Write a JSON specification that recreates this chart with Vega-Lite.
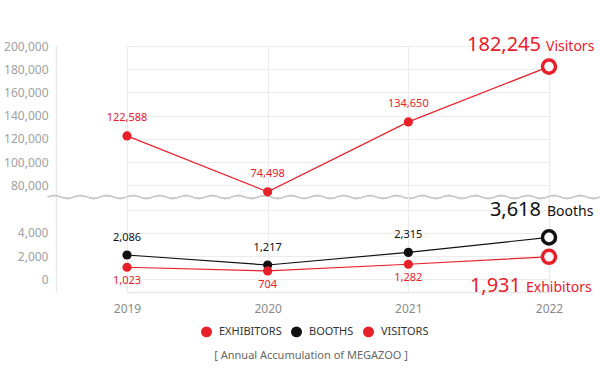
{
  "$schema": "https://vega.github.io/schema/vega-lite/v6.json",
  "padding": {"left": 3, "top": 34, "right": 0, "bottom": 5},
  "background": "white",
  "spacing": 0,
  "bounds": "flush",
  "config": {
    "view": {"stroke": null},
    "font": "Noto Sans",
    "axis": {"gridColor": "#ececec", "gridWidth": 1.2, "domainColor": "#e8e8e8", "domainWidth": 1.5, "ticks": false, "labelColor": "#a0a0a0", "labelFontSize": 12, "title": null},
    "title": {"fontSize": 11, "fontWeight": "normal", "color": "#666666", "offset": 10}
  },
  "title": {"text": "[ Annual Accumulation of MEGAZOO ]", "orient": "bottom", "anchor": "middle", "dx": 8},
  "data": {"values": [
    {"year": "2019", "series": "VISITORS", "value": 122588},
    {"year": "2020", "series": "VISITORS", "value": 74498},
    {"year": "2021", "series": "VISITORS", "value": 134650},
    {"year": "2022", "series": "VISITORS", "value": 182245},
    {"year": "2019", "series": "BOOTHS", "value": 2086},
    {"year": "2020", "series": "BOOTHS", "value": 1217},
    {"year": "2021", "series": "BOOTHS", "value": 2315},
    {"year": "2022", "series": "BOOTHS", "value": 3618},
    {"year": "2019", "series": "EXHIBITORS", "value": 1023},
    {"year": "2020", "series": "EXHIBITORS", "value": 704},
    {"year": "2021", "series": "EXHIBITORS", "value": 1282},
    {"year": "2022", "series": "EXHIBITORS", "value": 1931}
  ]},
  "resolve": {"scale": {"y": "independent", "x": "shared", "color": "shared"}},
  "vconcat": [
    {
      "width": 545,
      "height": 151,
      "transform": [{"filter": "datum.series === 'VISITORS'"}],
      "encoding": {
        "x": {"field": "year", "type": "ordinal", "scale": {"type": "point", "range": [71, 493], "padding": 0}, "axis": {"labels": false, "domain": false, "grid": true, "labelPadding": 0}},
        "y": {"field": "value", "type": "quantitative", "scale": {"domain": [70000, 200000], "nice": false, "zero": false}, "axis": {"values": [80000, 100000, 120000, 140000, 160000, 180000, 200000], "format": ",d", "labelPadding": 8, "minExtent": 52, "maxExtent": 52, "domain": true}}
      },
      "layer": [
        {"mark": {"type": "point", "shape": "M-220,0 q6.575,-3 13.15,0 t13.15,0 t13.15,0 t13.15,0 t13.15,0 t13.15,0 t13.15,0 t13.15,0 t13.15,0 t13.15,0 t13.15,0 t13.15,0 t13.15,0 t13.15,0 t13.15,0 t13.15,0 t13.15,0 t13.15,0 t13.15,0 t13.15,0 t13.15,0 t13.15,0 t13.15,0 t13.15,0 t13.15,0 t13.15,0 t13.15,0 t13.15,0 t13.15,0 t13.15,0 t13.15,0 t13.15,0 t13.15,0 t13.15,0 t13.15,0 t13.15,0 t13.15,0 t13.15,0 t13.15,0 t13.15,0 t13.15,0 t13.15,0", "size": 4, "filled": false, "fill": null, "stroke": "#cccccc", "strokeWidth": 1.3, "opacity": 1},
         "encoding": {"x": {"datum": "2020"}, "y": {"datum": 70000}}},
        {"transform": [{"filter": "datum.year !== '2022'"}],
         "mark": {"type": "point", "filled": true, "size": 85, "opacity": 1},
         "encoding": {"color": {"field": "series", "type": "nominal", "scale": {"domain": ["EXHIBITORS", "BOOTHS", "VISITORS"], "range": ["#e8202a", "#111111", "#e8202a"]}, "legend": {"title": null, "orient": "none", "legendX": 145, "legendY": 280, "direction": "horizontal", "symbolType": "circle", "symbolSize": 90, "labelFontSize": 11, "labelColor": "#333333", "columnPadding": 6, "labelOffset": 7}}}},
        {"mark": {"type": "line", "strokeWidth": 1.2},
         "encoding": {"color": {"field": "series", "type": "nominal", "legend": null}}},
        {"transform": [{"filter": "datum.year === '2022'"}],
         "mark": {"type": "point", "filled": false, "fill": "white", "size": 170, "strokeWidth": 3.5, "opacity": 1},
         "encoding": {"color": {"field": "series", "type": "nominal", "legend": null}}},
        {"transform": [{"filter": "datum.year !== '2022'"}],
         "mark": {"type": "text", "dy": -15, "fontSize": 11, "color": "#e8202a", "baseline": "alphabetic"},
         "encoding": {"text": {"field": "value", "type": "quantitative", "format": ","}}},
        {"transform": [{"filter": "datum.year === '2022'"}],
         "mark": {"type": "text", "dx": -8, "dy": -16, "align": "right", "fontSize": 20, "color": "#e8202a", "baseline": "alphabetic"},
         "encoding": {"text": {"field": "value", "type": "quantitative", "format": ","}}},
        {"transform": [{"filter": "datum.year === '2022'"}],
         "mark": {"type": "text", "text": "Visitors", "dx": -3, "dy": -16, "align": "left", "fontSize": 14, "color": "#e8202a", "baseline": "alphabetic"}}
      ]
    },
    {
      "width": 545,
      "height": 95,
      "transform": [{"filter": "datum.series !== 'VISITORS'"}],
      "encoding": {
        "x": {"field": "year", "type": "ordinal", "scale": {"type": "point", "range": [71, 493], "padding": 0}, "axis": {"labelAngle": 0, "labelColor": "#8a8a8a", "labelFontSize": 12, "labelPadding": 11, "domain": true, "grid": true}},
        "y": {"field": "value", "type": "quantitative", "scale": {"domain": [-1130, 7130], "nice": false, "zero": false}, "axis": {"values": [0, 2000, 4000, 6000], "format": ",d", "labelExpr": "datum.value === 6000 ? '' : datum.label", "labelPadding": 8, "minExtent": 52, "maxExtent": 52, "domain": true}}
      },
      "layer": [
        {"transform": [{"filter": "datum.year !== '2022'"}],
         "mark": {"type": "point", "filled": true, "size": 85, "opacity": 1},
         "encoding": {"color": {"field": "series", "type": "nominal", "legend": {"title": null, "orient": "none", "legendX": 145, "legendY": 280, "direction": "horizontal", "symbolType": "circle", "symbolSize": 90, "labelFontSize": 11, "labelColor": "#333333", "columnPadding": 6, "labelOffset": 7}}}},
        {"mark": {"type": "line", "strokeWidth": 1.2},
         "encoding": {"color": {"field": "series", "type": "nominal", "legend": null}}},
        {"transform": [{"filter": "datum.year === '2022'"}],
         "mark": {"type": "point", "filled": false, "fill": "white", "size": 170, "strokeWidth": 3.5, "opacity": 1},
         "encoding": {"color": {"field": "series", "type": "nominal", "legend": null}}},
        {"transform": [{"filter": "datum.year !== '2022' && datum.series === 'BOOTHS'"}],
         "mark": {"type": "text", "dy": -14, "fontSize": 11, "color": "#111111", "baseline": "alphabetic"},
         "encoding": {"text": {"field": "value", "type": "quantitative", "format": ","}}},
        {"transform": [{"filter": "datum.year !== '2022' && datum.series === 'EXHIBITORS'"}],
         "mark": {"type": "text", "dy": 17, "fontSize": 11, "color": "#e8202a", "baseline": "alphabetic"},
         "encoding": {"text": {"field": "value", "type": "quantitative", "format": ","}}},
        {"transform": [{"filter": "datum.year === '2022' && datum.series === 'BOOTHS'"}],
         "mark": {"type": "text", "dx": -8, "dy": -21, "align": "right", "fontSize": 20, "color": "#111111", "baseline": "alphabetic"},
         "encoding": {"text": {"field": "value", "type": "quantitative", "format": ","}}},
        {"transform": [{"filter": "datum.year === '2022' && datum.series === 'BOOTHS'"}],
         "mark": {"type": "text", "text": "Booths", "dx": -2, "dy": -21, "align": "left", "fontSize": 14, "color": "#111111", "baseline": "alphabetic"}},
        {"transform": [{"filter": "datum.year === '2022' && datum.series === 'EXHIBITORS'"}],
         "mark": {"type": "text", "dx": -28, "dy": 35, "align": "right", "fontSize": 20, "color": "#e8202a", "baseline": "alphabetic"},
         "encoding": {"text": {"field": "value", "type": "quantitative", "format": ","}}},
        {"transform": [{"filter": "datum.year === '2022' && datum.series === 'EXHIBITORS'"}],
         "mark": {"type": "text", "text": "Exhibitors", "dx": -23, "dy": 35, "align": "left", "fontSize": 14, "color": "#e8202a", "baseline": "alphabetic"}}
      ]
    }
  ]
}
